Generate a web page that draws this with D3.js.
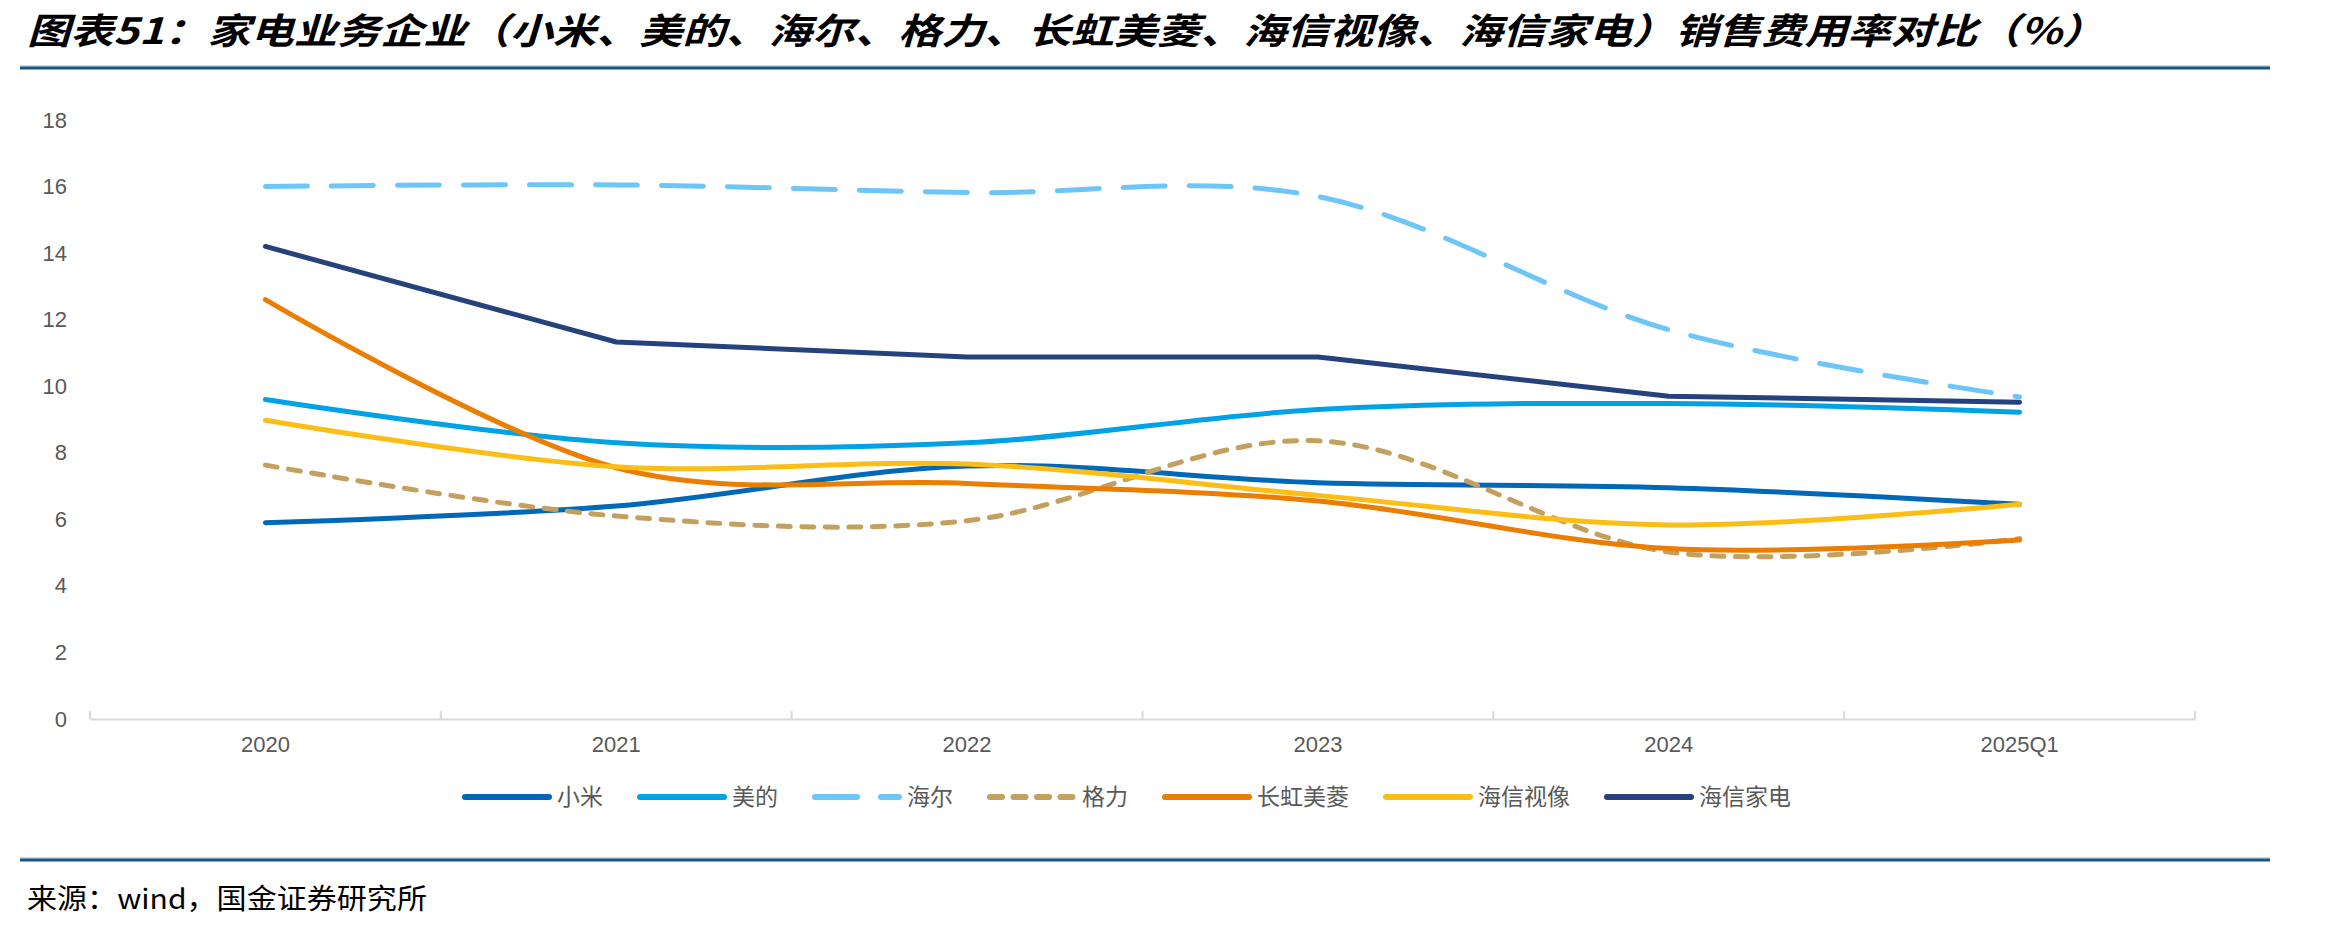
<!DOCTYPE html>
<html>
<head>
<meta charset="utf-8">
<script src="https://cdn.jsdelivr.net/npm/d3@7"></script>
<style>
  body { margin: 0; background: #fff; }
  svg { display: block; }
</style>
</head>
<body>
<div id="chart"></div>
<script>
var categories = ["2020", "2021", "2022", "2023", "2024", "2025Q1"];
var yTicks = [0, 2, 4, 6, 8, 10, 12, 14, 16, 18];

var xiaomi = [5.9, 6.4, 7.6, 7.1, 6.95, 6.45];
var midea = [9.6, 8.3, 8.3, 9.3, 9.48, 9.22];
var haier = [16.0, 16.05, 15.82, 15.7, 11.7, 9.68];
var gree = [7.63, 6.1, 5.96, 8.36, 5.02, 5.42];
var meiling = [12.6, 7.55, 7.08, 6.55, 5.12, 5.38];
var hisenseVisual = [8.98, 7.58, 7.66, 6.72, 5.83, 6.45];
var hisenseHA = [14.2, 11.33, 10.88, 10.88, 9.7, 9.52];

var seriesNames = ["小米", "美的", "海尔", "格力", "长虹美菱", "海信视像", "海信家电"];
var seriesValues = [xiaomi, midea, haier, gree, meiling, hisenseVisual, hisenseHA];
var seriesColors = ["#0068b7", "#00a2e6", "#6dc6f7", "#c4a05f", "#eb7e00", "#fcbe16", "#25427e"];
var seriesDash = [null, null, "42,24", "12,11.5", null, null, null];
var seriesSmooth = [true, true, true, true, true, true, false];

var W = 2349, H = 928;
var plot = { left: 90, right: 2195, top: 120, bottom: 719 };

var svg = d3.select("#chart")
    .append("svg")
    .attr("width", W)
    .attr("height", H);

svg.append("rect").attr("width", W).attr("height", H).attr("fill", "#fff");

// title + rules
svg.append("text")
    .attr("x", 27)
    .attr("y", 44)
    .attr("font-family", "'Noto Sans CJK SC', sans-serif")
    .attr("font-size", 36)
    .attr("font-weight", 700)
    .attr("font-style", "italic")
    .attr("fill", "#000")
    .attr("textLength", 2078)
    .attr("lengthAdjust", "spacingAndGlyphs")
    .text("图表51：家电业务企业（小米、美的、海尔、格力、长虹美菱、海信视像、海信家电）销售费用率对比（%）");

function rule(yy) {
    svg.append("line")
        .attr("x1", 20).attr("x2", 2270)
        .attr("y1", yy - 2).attr("y2", yy - 2)
        .attr("stroke", "#9dbbd2").attr("stroke-width", 1);
    svg.append("line")
        .attr("x1", 20).attr("x2", 2270)
        .attr("y1", yy).attr("y2", yy)
        .attr("stroke", "#1b5584").attr("stroke-width", 3);
}
rule(68);
rule(860);

svg.append("text")
    .attr("x", 27)
    .attr("y", 909)
    .attr("font-family", "'Noto Sans CJK SC', sans-serif")
    .attr("font-size", 28)
    .attr("fill", "#000")
    .attr("textLength", 400)
    .attr("lengthAdjust", "spacingAndGlyphs")
    .text("来源：wind，国金证券研究所");

// scales
var x = d3.scaleBand()
    .domain(categories)
    .range([plot.left, plot.right])
    .padding(0);

var y = d3.scaleLinear()
    .domain([0, 18])
    .range([plot.bottom, plot.top]);

function cx(c) { return x(c) + x.bandwidth() / 2; }

// y axis (labels only)
var yAxis = svg.append("g")
    .attr("transform", "translate(" + plot.left + ",0)")
    .call(d3.axisLeft(y).tickValues(yTicks).tickSize(0).tickPadding(23));
yAxis.select(".domain").remove();
yAxis.selectAll("text")
    .attr("font-family", "'Liberation Sans', Arial, sans-serif")
    .attr("font-size", 22)
    .attr("fill", "#595959");

// x axis
var xAxis = svg.append("g")
    .attr("transform", "translate(0," + plot.bottom + ")")
    .call(d3.axisBottom(x).tickSize(0).tickPadding(17));
xAxis.select(".domain")
    .attr("stroke", "#d9d9d9")
    .attr("stroke-width", 2);
xAxis.selectAll("text")
    .attr("font-family", "'Liberation Sans', Arial, sans-serif")
    .attr("font-size", 22)
    .attr("fill", "#595959");

// boundary ticks (inside)
svg.append("g")
    .selectAll("line")
    .data(d3.range(categories.length + 1))
    .enter()
    .append("line")
    .attr("x1", function (i) { return plot.left + i * x.bandwidth(); })
    .attr("x2", function (i) { return plot.left + i * x.bandwidth(); })
    .attr("y1", plot.bottom)
    .attr("y2", plot.bottom - 8)
    .attr("stroke", "#d9d9d9")
    .attr("stroke-width", 2);

// lines
var smoothLine = d3.line()
    .x(function (d) { return cx(d.cat); })
    .y(function (d) { return y(d.v); })
    .curve(d3.curveCardinal.tension(0));

var straightLine = d3.line()
    .x(function (d) { return cx(d.cat); })
    .y(function (d) { return y(d.v); });

var lineG = svg.append("g");
seriesNames.forEach(function (name, i) {
    var pts = categories.map(function (c, j) { return { cat: c, v: seriesValues[i][j] }; });
    lineG.append("path")
        .datum(pts)
        .attr("d", seriesSmooth[i] ? smoothLine : straightLine)
        .attr("fill", "none")
        .attr("stroke", seriesColors[i])
        .attr("stroke-width", 5)
        .attr("stroke-linecap", "round")
        .attr("stroke-linejoin", "round")
        .attr("stroke-dasharray", seriesDash[i]);
});

// legend
var legendY = 797;
var lx = 465;
var legend = svg.append("g");
seriesNames.forEach(function (name, i) {
    legend.append("line")
        .attr("x1", lx).attr("x2", lx + 84)
        .attr("y1", legendY).attr("y2", legendY)
        .attr("stroke", seriesColors[i])
        .attr("stroke-width", 6)
        .attr("stroke-linecap", "round")
        .attr("stroke-dasharray", seriesDash[i]);
    legend.append("text")
        .attr("x", lx + 92)
        .attr("y", legendY)
        .attr("dy", "0.35em")
        .attr("font-family", "'Noto Sans CJK SC', sans-serif")
        .attr("font-size", 23)
        .attr("fill", "#595959")
        .text(name);
    lx += 84 + 8 + name.length * 23 + 37;
});
</script>
</body>
</html>
